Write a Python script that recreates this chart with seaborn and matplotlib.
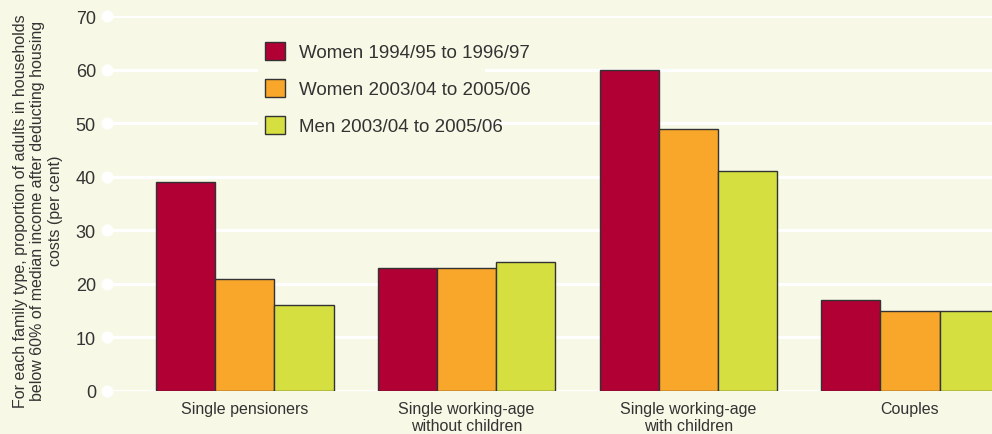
import numpy as np
import pandas as pd
import matplotlib
matplotlib.use("Agg")
import matplotlib.pyplot as plt
import matplotlib.patches as mpatches
import seaborn as sns

categories = ["Single pensioners", "Single working-age\nwithout children",
              "Single working-age\nwith children", "Couples"]
series = ["Women 1994/95 to 1996/97", "Women 2003/04 to 2005/06", "Men 2003/04 to 2005/06"]
women_9497 = [39, 23, 60, 17]
women_0306 = [21, 23, 49, 15]
men_0306 = [16, 24, 41, 15]
yticks = [0, 10, 20, 30, 40, 50, 60, 70]

colors = ["#b00034", "#f9a72b", "#d5df3f"]
bg = "#f7f8e5"
text_col = "#333333"

df = pd.DataFrame({
    "family": categories * 3,
    "series": [series[0]] * 4 + [series[1]] * 4 + [series[2]] * 4,
    "value": women_9497 + women_0306 + men_0306,
})

plt.rcParams["font.family"] = ["Liberation Sans", "DejaVu Sans"]

fig = plt.figure(figsize=(9.92, 4.35), dpi=100, facecolor=bg)
ax = fig.add_axes([107 / 992, 43 / 435, 885 / 992, 375 / 435])
ax.set_facecolor(bg)

sns.barplot(df, x="family", y="value", hue="series", palette=colors, saturation=1,
            edgecolor="#333333", linewidth=1.0, width=0.8, ax=ax, zorder=3)

x0 = -0.622
ax.set_xlim(x0, 3.37)
ax.set_ylim(0, 70)
ax.set_yticks(yticks)
ax.yaxis.grid(True, color="white", linewidth=2.3, zorder=0)
ax.set_axisbelow(True)
for s in ax.spines.values():
    s.set_visible(False)
ax.tick_params(axis="y", length=0, pad=8, labelsize=13, labelcolor=text_col)
ax.tick_params(axis="x", length=0, pad=7, labelsize=11.5, labelcolor=text_col)
ax.set_xlabel("")
ax.set_ylabel("")

# white dots at the left end of each grid line
ax.scatter([x0] * len(yticks), yticks, s=60, color="white", zorder=4, clip_on=False)

# patch behind the legend that hides the grid lines
ax.add_patch(mpatches.Rectangle((0.1706, 0.605), 0.2565, 0.36, transform=ax.transAxes,
                                facecolor=bg, edgecolor="none", zorder=1))

ax.legend(loc="upper left", bbox_to_anchor=(0.1785, 0.93), frameon=False,
          fontsize=13.5, handlelength=1.07, handleheight=1.07, handletextpad=0.75,
          labelspacing=0.95, borderpad=0, borderaxespad=0, labelcolor=text_col)

fig.text(38 / 992, 1 - 211 / 435,
         "For each family type, proportion of adults in households\n"
         "below 60% of median income after deducting housing\n"
         "costs (per cent)",
         rotation=90, ha="center", va="center", fontsize=11.5, color=text_col,
         linespacing=1.2)

fig.savefig("out.png", dpi=100, facecolor=bg)
